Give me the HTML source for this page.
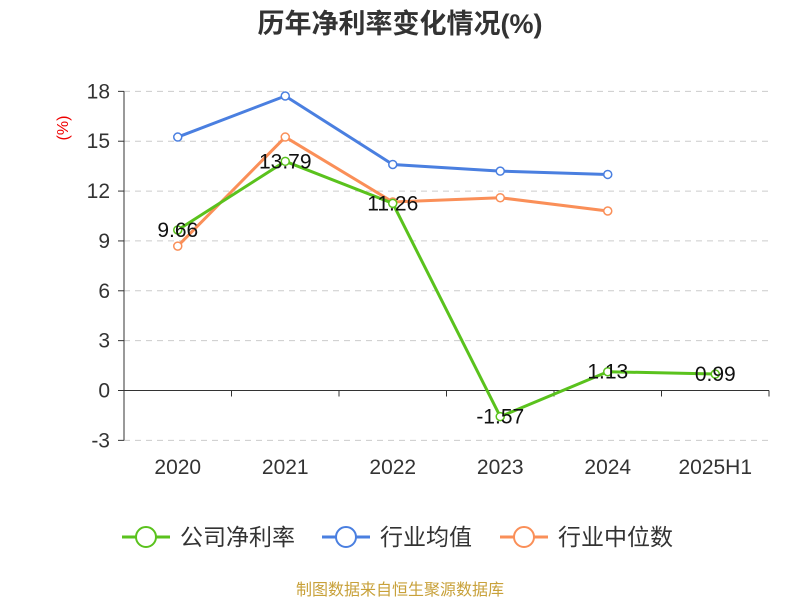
<!DOCTYPE html>
<html><head><meta charset="utf-8"><style>
body{margin:0;background:#fff;font-family:"Liberation Sans","Noto Sans CJK SC",sans-serif}
</style></head><body>
<svg id="c" width="800" height="600" xmlns="http://www.w3.org/2000/svg"></svg>
<script>
const categories=["2020","2021","2022","2023","2024","2025H1"];
const company=[9.66,13.79,11.26,-1.57,1.13,0.99];
const industryAvg=[15.25,17.72,13.6,13.2,13.0];
const industryMedian=[8.69,15.25,11.34,11.6,10.8];
const yTicks=[-3,0,3,6,9,12,15,18];
const svg=document.getElementById('c');
const NS='http://www.w3.org/2000/svg';
function mk(t,a,txt){const e=document.createElementNS(NS,t);for(const k in a)e.setAttribute(k,a[k]);if(txt!==undefined)e.textContent=txt;svg.appendChild(e);return e;}
const x0=124,x1=769,bw=(x1-x0)/categories.length;
const X=i=>x0+bw*(i+0.5);
const Y=v=>390.5-(v)*(349/21);
let e=mk('text',{x:400,y:33,'text-anchor':'middle','font-size':27,'font-weight':'bold',fill:'#333'},'历年净利率变化情况(%)');

e=mk('text',{x:68,y:128,'text-anchor':'middle','font-size':16,fill:'#e00',transform:'rotate(-90 68 128)'},'(%)');

yTicks.forEach(v=>{
 if(v!==0){const g=mk('line',{x1:x0,x2:x1,y1:Y(v),y2:Y(v),stroke:'#ccc','stroke-dasharray':'6,5'});}
 const t=mk('line',{x1:x0-6,x2:x0,y1:Y(v),y2:Y(v),stroke:'#333'});
 const l=mk('text',{x:x0-14,y:Y(v)+7,'text-anchor':'end','font-size':21,fill:'#333'},v);
});
e=mk('line',{x1:x0,x2:x0,y1:Y(18),y2:Y(-3),stroke:'#333'});
e=mk('line',{x1:x0,x2:x1,y1:Y(0),y2:Y(0),stroke:'#333'});
for(let i=0;i<=categories.length;i++){const t=mk('line',{x1:x0+bw*i,x2:x0+bw*i,y1:Y(0),y2:Y(0)+6,stroke:'#333'});}
categories.forEach((c,i)=>{const l=mk('text',{x:X(i),y:474,'text-anchor':'middle','font-size':21,fill:'#333'},c);});
function series(vals,color,name){
 const p=mk('polyline',{points:vals.map((v,i)=>X(i)+','+Y(v)).join(' '),fill:'none',stroke:color,'stroke-width':3});
 
 vals.forEach((v,i)=>{const c=mk('circle',{cx:X(i),cy:Y(v),r:4,fill:'#fff',stroke:color,'stroke-width':1.5});});
}
series(industryMedian,'#fa8f58','industry-median');
series(industryAvg,'#4a7fe0','industry-average');
series(company,'#5ac21d','company');
company.forEach((v,i)=>{const l=mk('text',{x:X(i),y:Y(v)+7,'text-anchor':'middle','font-size':21,fill:'#111'},v.toFixed(2));});
const leg=[['公司净利率','#5ac21d',122],['行业均值','#4a7fe0',322],['行业中位数','#fa8f58',500]];
leg.forEach(([t,c,x])=>{
 const a=mk('line',{x1:x,x2:x+48,y1:537,y2:537,stroke:c,'stroke-width':3});
 const b=mk('circle',{cx:x+24,cy:537,r:10,fill:'#fff',stroke:c,'stroke-width':2});
 const l=mk('text',{x:x+58,y:545,'font-size':23,fill:'#333'},t);
});
e=mk('text',{x:400,y:595,'text-anchor':'middle','font-size':16,fill:'#c8a13a'},'制图数据来自恒生聚源数据库');

</script>
</body></html>
